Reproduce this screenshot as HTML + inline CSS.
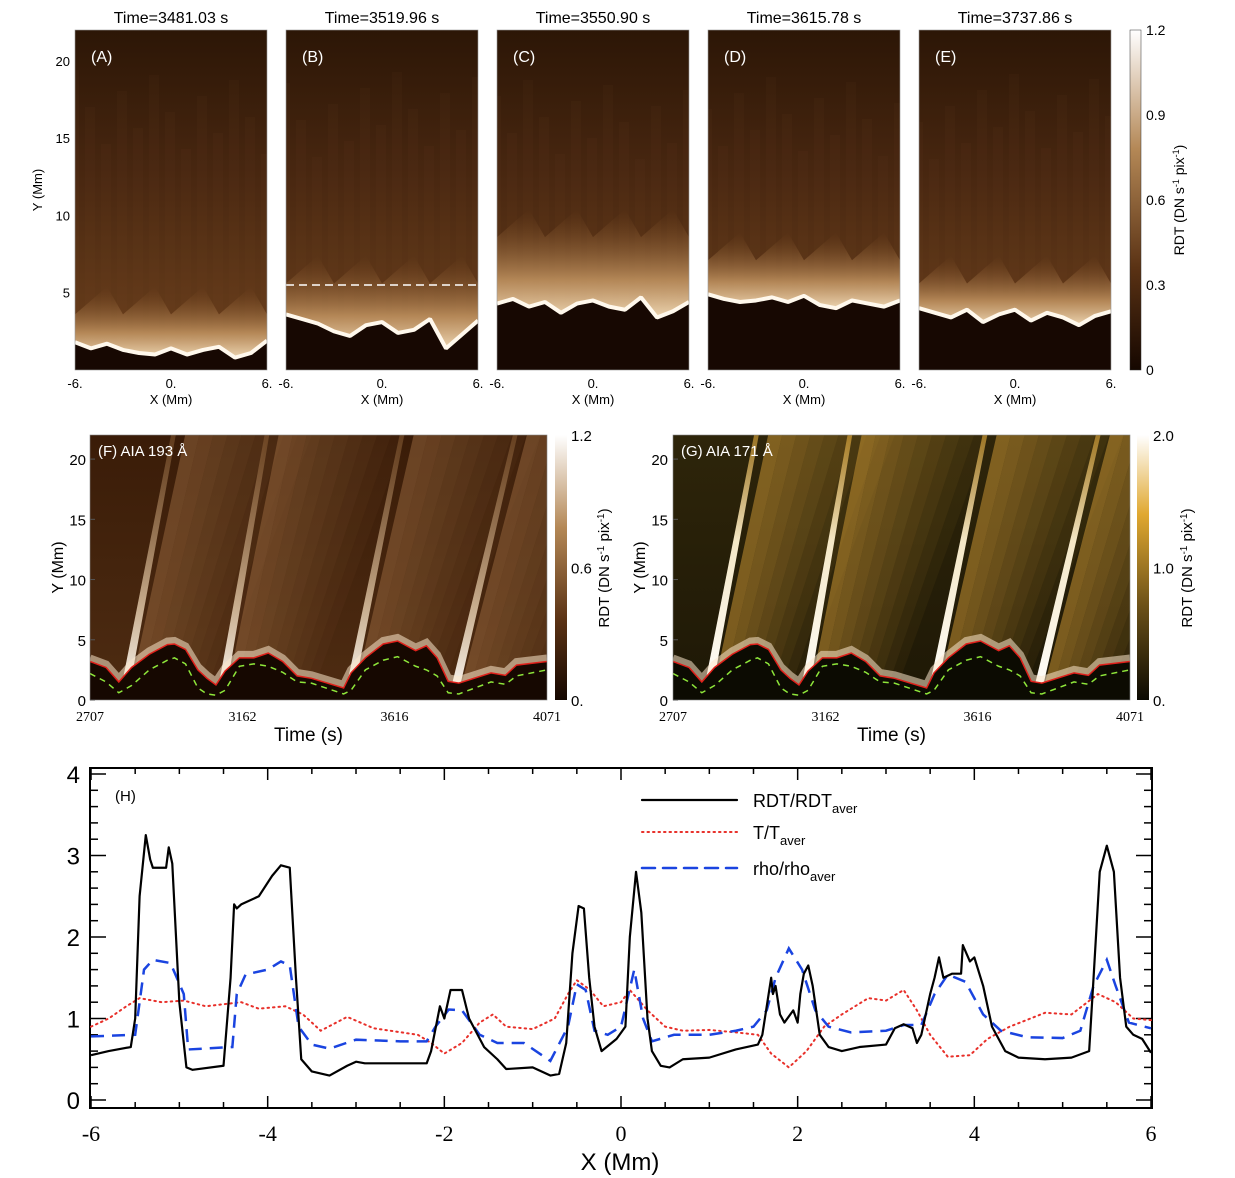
<!DOCTYPE html>
<html><head><meta charset="utf-8"><style>
html,body{margin:0;padding:0;background:#fff;}
svg{display:block;font-family:"Liberation Sans",sans-serif;}
</style></head><body>
<svg id="fig" width="1235" height="1178" viewBox="0 0 1235 1178" xmlns="http://www.w3.org/2000/svg">
<defs>
<linearGradient id="topBg" x1="0" y1="0" x2="0" y2="1">
<stop offset="0" stop-color="#2c1606"/><stop offset="0.45" stop-color="#4a2811"/><stop offset="1" stop-color="#6e421d"/>
</linearGradient>
<linearGradient id="glow" x1="0" y1="1" x2="0" y2="0">
<stop offset="0" stop-color="#f3dcb8" stop-opacity="0.95"/><stop offset="0.35" stop-color="#c89a66" stop-opacity="0.8"/><stop offset="1" stop-color="#7a4a22" stop-opacity="0"/>
</linearGradient>
<linearGradient id="cbBrown" x1="0" y1="1" x2="0" y2="0">
<stop offset="0" stop-color="#150700"/><stop offset="0.3" stop-color="#5a3214"/><stop offset="0.65" stop-color="#b48856"/><stop offset="1" stop-color="#ffffff"/>
</linearGradient>
<linearGradient id="cbGold" x1="0" y1="1" x2="0" y2="0">
<stop offset="0" stop-color="#0c0a02"/><stop offset="0.35" stop-color="#6a5018"/><stop offset="0.7" stop-color="#e0a830"/><stop offset="1" stop-color="#ffffff"/>
</linearGradient>
<linearGradient id="fBg" x1="0" y1="0" x2="0" y2="1">
<stop offset="0" stop-color="#3a1c08"/><stop offset="1" stop-color="#4e2c12"/>
</linearGradient>
<linearGradient id="gBg" x1="0" y1="0" x2="0" y2="1">
<stop offset="0" stop-color="#2e250a"/><stop offset="1" stop-color="#1e1806"/>
</linearGradient>
<linearGradient id="coreF" x1="0" y1="1" x2="0" y2="0">
<stop offset="0" stop-color="#ffffff" stop-opacity="1"/><stop offset="0.35" stop-color="#e8cfae" stop-opacity="0.8"/><stop offset="1" stop-color="#9a6a3c" stop-opacity="0.4"/>
</linearGradient>
<linearGradient id="coreG" x1="0" y1="1" x2="0" y2="0">
<stop offset="0" stop-color="#ffffff" stop-opacity="1"/><stop offset="0.6" stop-color="#fff2d0" stop-opacity="0.95"/><stop offset="1" stop-color="#e0a838" stop-opacity="0.6"/>
</linearGradient>
</defs>
<g id="top-row"></g>
<g id="mid-row"></g>
<g id="bottom"></g>
</svg>
<script>
// ---------- Data: panels A-E ----------
const panelTitles = ["Time=3481.03 s","Time=3519.96 s","Time=3550.90 s","Time=3615.78 s","Time=3737.86 s"];
const panelLetters = ["(A)","(B)","(C)","(D)","(E)"];
const bandX = [-6,-5,-4,-3,-2,-1,0,1,2,3,4,5,6];
const bandA = [1.8,1.4,1.7,1.3,1.1,1.0,1.4,1.0,1.3,1.5,0.8,1.1,1.9];
const bandB = [3.6,3.3,3.0,2.5,2.2,2.9,3.1,2.4,2.6,3.3,1.4,2.3,3.2];
const bandC = [4.3,4.6,4.1,4.4,3.7,4.3,4.5,4.1,3.9,4.7,3.4,3.8,4.4];
const bandD = [4.9,4.6,4.4,4.5,4.7,4.4,4.8,4.2,4.0,4.5,4.3,4.1,4.5];
const bandE = [4.0,3.7,3.4,3.9,3.1,3.6,3.9,3.2,3.7,3.4,2.9,3.5,3.8];
const glowTop = [4.5,6.5,9.5,8,6.5];
// ---------- Data: panels F, G ----------
const bTimes = [2707,2755,2793,2831,2884,2938,2959,2992,3029,3056,3083,3110,3153,3196,3239,3282,3325,3368,3464,3486,3529,3582,3625,3679,3711,3743,3776,3808,3904,3947,3980,4071];
const redH = [3.2,2.7,1.5,2.7,3.8,4.6,4.65,4.2,2.5,1.8,1.25,2.4,3.5,3.5,3.9,3.2,2.0,1.8,1.0,2.25,3.5,4.65,4.9,4.1,4.5,3.5,1.55,1.4,2.25,2.05,2.9,3.2];
const greenH = [2.2,1.5,0.6,1.2,2.5,3.3,3.5,3.0,1.0,0.5,0.4,0.8,2.8,3.0,2.8,2.3,1.5,1.4,0.5,0.8,2.5,3.3,3.6,2.8,2.5,2.0,0.6,0.5,1.5,1.3,2.0,2.5];
const wedgeStart = [2793,3083,3464,3776];
const wedgeTop = [2949,3228,3631,3969];
const timeTicks = [2707,3162,3616,4071];
// ---------- Data: panel H ----------
const rdtPts = [[-6,0.55],[-5.8,0.6],[-5.55,0.65],[-5.5,1.0],[-5.45,2.5],[-5.38,3.25],[-5.33,2.95],[-5.3,2.85],[-5.15,2.85],[-5.12,3.1],[-5.08,2.9],[-5.0,1.2],[-4.92,0.4],[-4.85,0.37],[-4.5,0.42],[-4.42,1.5],[-4.38,2.4],[-4.35,2.35],[-4.3,2.4],[-4.1,2.5],[-3.95,2.75],[-3.85,2.88],[-3.75,2.85],[-3.68,1.5],[-3.62,0.5],[-3.5,0.35],[-3.3,0.3],[-3.1,0.42],[-3.0,0.47],[-2.9,0.45],[-2.2,0.45],[-2.15,0.6],[-2.05,1.15],[-2.0,1.0],[-1.93,1.35],[-1.8,1.35],[-1.72,1.0],[-1.55,0.65],[-1.4,0.5],[-1.3,0.38],[-1.0,0.4],[-0.8,0.3],[-0.7,0.32],[-0.62,0.7],[-0.55,1.8],[-0.48,2.38],[-0.42,2.35],[-0.36,1.5],[-0.3,0.9],[-0.22,0.6],[-0.05,0.75],[0.05,0.9],[0.1,2.0],[0.17,2.8],[0.23,2.3],[0.3,1.0],[0.35,0.6],[0.45,0.42],[0.55,0.4],[0.7,0.5],[1.0,0.52],[1.3,0.62],[1.55,0.68],[1.6,0.8],[1.7,1.5],[1.72,1.3],[1.75,1.4],[1.8,1.05],[1.85,0.95],[1.95,1.1],[2.0,0.95],[2.03,1.3],[2.07,1.55],[2.12,1.65],[2.17,1.4],[2.25,0.8],[2.35,0.65],[2.5,0.6],[2.7,0.65],[3.0,0.68],[3.1,0.88],[3.2,0.93],[3.3,0.88],[3.35,0.7],[3.4,0.8],[3.5,1.3],[3.55,1.5],[3.6,1.75],[3.65,1.5],[3.75,1.55],[3.85,1.55],[3.87,1.9],[3.95,1.7],[4.0,1.75],[4.1,1.4],[4.2,0.9],[4.35,0.6],[4.5,0.52],[4.8,0.5],[5.1,0.52],[5.3,0.6],[5.35,1.5],[5.42,2.8],[5.5,3.12],[5.58,2.8],[5.65,1.5],[5.72,0.9],[5.8,0.8],[5.9,0.75],[6.0,0.58]];
const tPts = [[-6,0.9],[-5.8,1.0],[-5.6,1.15],[-5.45,1.25],[-5.2,1.2],[-4.95,1.22],[-4.7,1.15],[-4.3,1.2],[-4.1,1.12],[-3.8,1.15],[-3.6,1.05],[-3.4,0.85],[-3.1,1.02],[-2.8,0.88],[-2.3,0.8],[-2.15,0.7],[-2.0,0.57],[-1.8,0.7],[-1.6,0.95],[-1.45,1.05],[-1.3,0.9],[-1.0,0.87],[-0.75,1.0],[-0.6,1.3],[-0.5,1.47],[-0.35,1.35],[-0.2,1.15],[0.0,1.2],[0.1,1.35],[0.3,1.1],[0.5,0.9],[0.7,0.85],[1.0,0.86],[1.3,0.83],[1.55,0.8],[1.7,0.57],[1.9,0.4],[2.1,0.6],[2.3,0.9],[2.5,1.05],[2.8,1.25],[3.0,1.22],[3.2,1.35],[3.35,1.1],[3.5,0.8],[3.7,0.53],[3.95,0.55],[4.15,0.75],[4.4,0.9],[4.8,1.07],[5.1,1.05],[5.4,1.3],[5.6,1.2],[5.8,1.0],[6.0,0.98]];
const rhoPts = [[-6,0.78],[-5.5,0.8],[-5.4,1.6],[-5.3,1.72],[-5.1,1.68],[-4.95,1.3],[-4.9,0.62],[-4.4,0.65],[-4.35,1.3],[-4.25,1.54],[-4.0,1.6],[-3.85,1.7],[-3.75,1.65],[-3.65,0.9],[-3.5,0.68],[-3.3,0.63],[-3.0,0.74],[-2.5,0.72],[-2.2,0.72],[-2.1,0.9],[-1.95,1.11],[-1.8,1.1],[-1.6,0.8],[-1.4,0.7],[-1.1,0.7],[-0.8,0.48],[-0.6,0.9],[-0.5,1.42],[-0.4,1.35],[-0.3,0.85],[-0.15,0.8],[0.0,0.9],[0.15,1.6],[0.25,1.0],[0.35,0.72],[0.6,0.8],[1.0,0.8],[1.3,0.85],[1.5,0.9],[1.65,1.1],[1.75,1.5],[1.9,1.86],[2.05,1.6],[2.2,1.1],[2.35,0.9],[2.6,0.83],[3.0,0.85],[3.2,0.92],[3.4,0.92],[3.55,1.3],[3.7,1.54],[3.9,1.45],[4.1,1.05],[4.3,0.85],[4.6,0.77],[5.0,0.76],[5.2,0.85],[5.35,1.4],[5.5,1.72],[5.6,1.4],[5.75,0.95],[6.0,0.88]];
const hYTicks = [0,1,2,3,4];
const hXTicks = [-6,-4,-2,0,2,4,6];

const NS = "http://www.w3.org/2000/svg";
function mk(parent, tag, attrs, text){
  const e = document.createElementNS(NS, tag);
  for (const k in attrs) e.setAttribute(k, attrs[k]);
  if (text !== undefined) e.textContent = text;
  parent.appendChild(e);
  return e;
}
const fig = document.getElementById('fig');
const defs = fig.querySelector('defs');

// ================= TOP ROW =================
const topG = document.getElementById('top-row');
const panelX0 = [75,286,497,708,919];
const PW = 192, PT = 30, PB = 370;
const bands = [bandA,bandB,bandC,bandD,bandE];
function tyMm(v){ return PB - (PB-PT)*v/22; }
for (let p=0;p<5;p++){
  const x0 = panelX0[p];
  const tx = v => x0 + (v+6)/12*PW;
  const g = mk(topG,'g',{});
  
  
  const cp = mk(defs,'clipPath',{id:'cp'+p});
  mk(cp,'rect',{x:x0,y:PT,width:PW,height:PB-PT});
  const inner = mk(g,'g',{'clip-path':'url(#cp'+p+')'});
  mk(inner,'rect',{x:x0,y:PT,width:PW,height:PB-PT,fill:'url(#topBg)'});
  for (let i=0;i<bandX.length;i++){
    mk(inner,'rect',{x:tx(bandX[i])-6,y:PT+40+((i*37+p*13)%90),width:10,height:PB-PT,fill:'#8a5a30',opacity:0.06});
  }
  const band = bands[p];
  let gp = bandX.map((x,i)=>tx(x)+','+tyMm(band[i])).join(' ');
  const gtop = bandX.map((x,i)=>tx(x)+','+tyMm(glowTop[p]+((i%3)-1)*0.9)).reverse().join(' ');
  mk(inner,'polygon',{points:gp+' '+gtop,fill:'url(#glow)'});
  mk(inner,'polygon',{points:gp+' '+tx(6)+','+PB+' '+tx(-6)+','+PB,fill:'#170802'});
  const bl = mk(inner,'polyline',{points:gp,fill:'none',stroke:'#fff8ec','stroke-width':4,'stroke-linejoin':'bevel'});
  
  
  if (p===1){
    const dl = mk(inner,'line',{x1:x0,x2:x0+PW,y1:tyMm(5.5),y2:tyMm(5.5),stroke:'#fff','stroke-width':1.5,'stroke-dasharray':'8,5'});
    
    
  }
  mk(g,'rect',{x:x0,y:PT,width:PW,height:PB-PT,fill:'none',stroke:'#999','stroke-width':0.6});
  const lt = mk(g,'text',{x:x0+16,y:62,fill:'#fff','font-size':16},panelLetters[p]);
  
  
  const tt = mk(g,'text',{x:x0+PW/2,y:23,'text-anchor':'middle','font-size':16},panelTitles[p]);
  
  
  [[-6,'-6.'],[0,'0.'],[6,'6.']].forEach(([v,s])=>{
    const t = mk(g,'text',{x:tx(v),y:388,'text-anchor':'middle','font-size':13},s);
    
    
  });
  const xl = mk(g,'text',{x:x0+PW/2,y:404,'text-anchor':'middle','font-size':13},'X (Mm)');
  
  
}
[5,10,15,20].forEach(v=>{
  const t = mk(topG,'text',{x:70,y:tyMm(v)+5,'text-anchor':'end','font-size':13},String(v));
  
  
});
{
  const t = mk(topG,'text',{x:0,y:0,'text-anchor':'middle','font-size':13,transform:'translate(42,190) rotate(-90)'},'Y (Mm)');
  
  
  const cb = mk(topG,'rect',{x:1130,y:PT,width:11,height:PB-PT,fill:'url(#cbBrown)',stroke:'#333','stroke-width':0.5});
  
  
  [[1.2,'1.2'],[0.9,'0.9'],[0.6,'0.6'],[0.3,'0.3'],[0,'0']].forEach(([v,s])=>{
    const y = PB-(PB-PT)*v/1.2;
    const l = mk(topG,'text',{x:1146,y:y+5,'font-size':14},s);
    
    
  });
  const ct = mk(topG,'text',{x:0,y:0,'text-anchor':'middle','font-size':14,transform:'translate(1184,200) rotate(-90)'});
  
  
  ct.innerHTML = 'RDT (DN s<tspan baseline-shift="super" font-size="9">-1</tspan> pix<tspan baseline-shift="super" font-size="9">-1</tspan>)';
}

// ================= MIDDLE ROW =================
const midG = document.getElementById('mid-row');
function drawTD(cfg){
  const {x0,x1,y0,y1,bg,strip,core,dark,label,cbx,cbFill,cbLabels,cbMax,tickX,name,cbTitleX,stripOp} = cfg;
  const g = mk(midG,'g',{});
  
  
  const tx = t => x0 + (t-2707)/(4071-2707)*(x1-x0);
  const ty = v => y1 - (y1-y0)*v/22;
  const cp = mk(defs,'clipPath',{id:'cp'+name});
  mk(cp,'rect',{x:x0,y:y0,width:x1-x0,height:y1-y0});
  const inner = mk(g,'g',{'clip-path':'url(#cp'+name+')'});
  mk(inner,'rect',{x:x0,y:y0,width:x1-x0,height:y1-y0,fill:bg});
  for (let w=0;w<wedgeStart.length;w++){
    const d = 28;
    for (let i=9;i>=1;i--){
      const a = wedgeStart[w]+i*d, b = wedgeTop[w]+i*d*1.5;
      const pts = [tx(a)+','+ty(0), tx(b)+','+ty(22), tx(b+d*1.5)+','+ty(22), tx(a+d)+','+ty(0)].join(' ');
      const s = mk(inner,'polygon',{points:pts,fill:strip,opacity:stripOp*(1-i/10)});
      
      
    }
    const a = wedgeStart[w], b = wedgeTop[w];
    const pts = [tx(a)+','+ty(0), tx(b)+','+ty(22), tx(b+14)+','+ty(22), tx(a+26)+','+ty(0)].join(' ');
    const c = mk(inner,'polygon',{points:pts,fill:core});
    
    
  }
  const redPts = bTimes.map((t,i)=>tx(t)+','+ty(redH[i])).join(' ');
  mk(inner,'polyline',{points:redPts,fill:'none',stroke:'#fbe8cc','stroke-width':8,opacity:0.55,transform:'translate(0,-3)'});
  mk(inner,'polygon',{points:redPts+' '+tx(4071)+','+y1+' '+tx(2707)+','+y1,fill:dark});
  const rl = mk(inner,'polyline',{points:redPts,fill:'none',stroke:'#e0201a','stroke-width':1.5});
  
  
  const gl = mk(inner,'polyline',{points:bTimes.map((t,i)=>tx(t)+','+ty(greenH[i])).join(' '),fill:'none',stroke:'#8ee63a','stroke-width':1.5,'stroke-dasharray':'6,5'});
  
  
  mk(g,'rect',{x:x0,y:y0,width:x1-x0,height:y1-y0,fill:'none',stroke:'#888','stroke-width':0.6});
  const lt = mk(g,'text',{x:x0+8,y:y0+21,fill:'#fff','font-size':15},label);
  
  
  [0,5,10,15,20].forEach(v=>{
    const t = mk(g,'text',{x:tickX,y:ty(v)+6,'text-anchor':'end','font-size':15},String(v));
    
    
    mk(g,'line',{x1:x0,x2:x0+5,y1:ty(v),y2:ty(v),stroke:'#555'});
  });
  const yl = mk(g,'text',{x:0,y:0,'text-anchor':'middle','font-size':16,transform:'translate('+(tickX-23)+','+ty(11)+') rotate(-90)'},'Y (Mm)');
  
  
  timeTicks.forEach(t=>{
    const l = mk(g,'text',{x:tx(t),y:721,'text-anchor':'middle','font-size':14,'font-family':'Liberation Serif, serif'},String(t));
    
    
  });
  const xl = mk(g,'text',{x:(x0+x1)/2-10,y:741,'text-anchor':'middle','font-size':19},'Time  (s)');
  
  
  const cb = mk(g,'rect',{x:cbx,y:y0,width:12,height:y1-y0,fill:cbFill});
  
  
  cbLabels.forEach(([v,s])=>{
    const yy = y1-(y1-y0)*v/cbMax;
    const l = mk(g,'text',{x:cbx+16,y:yy+6,'font-size':15},s);
    
    
  });
  const ct = mk(g,'text',{x:0,y:0,'text-anchor':'middle','font-size':15,transform:'translate('+cbTitleX+',568) rotate(-90)'});
  
  
  ct.innerHTML = 'RDT (DN s<tspan baseline-shift="super" font-size="10">-1</tspan> pix<tspan baseline-shift="super" font-size="10">-1</tspan>)';
}
drawTD({x0:90,x1:547,y0:435,y1:700,bg:'url(#fBg)',strip:'#9c6c40',core:'url(#coreF)',dark:'#160801',label:'(F) AIA 193 Å',cbx:555,cbFill:'url(#cbBrown)',cbLabels:[[1.2,'1.2'],[0.6,'0.6'],[0,'0.']],cbMax:1.2,tickX:86,name:'panel-f',cbTitleX:609,stripOp:0.55});
drawTD({x0:673,x1:1130,y0:435,y1:700,bg:'url(#gBg)',strip:'#c89434',core:'url(#coreG)',dark:'#0c0b02',label:'(G) AIA 171 Å',cbx:1137,cbFill:'url(#cbGold)',cbLabels:[[2,'2.0'],[1,'1.0'],[0,'0.']],cbMax:2,tickX:668,name:'panel-g',cbTitleX:1192,stripOp:0.6});

// ================= PANEL H =================
const hG = document.getElementById('bottom');
const HX0=90, HX1=1152, HY0=768, HY1=1108;
const hx = v => 621 + 88.33*v;
const hy = v => 1100 - 81.5*v;
const box = mk(hG,'rect',{x:HX0,y:HY0,width:HX1-HX0,height:HY1-HY0,fill:'#fff',stroke:'#000','stroke-width':2});


for (let v=0; v<=4.0001; v+=0.2){
  const major = Math.abs(v-Math.round(v))<1e-6;
  const L = major?16:8;
  mk(hG,'line',{x1:HX0,x2:HX0+L,y1:hy(v),y2:hy(v),stroke:'#000','stroke-width':1.5});
  mk(hG,'line',{x1:HX1-L,x2:HX1,y1:hy(v),y2:hy(v),stroke:'#000','stroke-width':1.5});
}
for (let v=-6; v<=6.0001; v+=0.5){
  const major = Math.abs(v/2-Math.round(v/2))<1e-6;
  const L = major?12:6;
  mk(hG,'line',{x1:hx(v),x2:hx(v),y1:HY1,y2:HY1-L,stroke:'#000','stroke-width':1.5});
  mk(hG,'line',{x1:hx(v),x2:hx(v),y1:HY0,y2:HY0+L,stroke:'#000','stroke-width':1.5});
}
hYTicks.forEach(v=>{
  const t = mk(hG,'text',{x:80,y:hy(v)+9,'text-anchor':'end','font-size':24},String(v));
  
  
});
hXTicks.forEach(v=>{
  const t = mk(hG,'text',{x:hx(v),y:1141,'text-anchor':'middle','font-size':22,'font-family':'Liberation Serif, serif'},String(v));
  
  
});
{
  const t = mk(hG,'text',{x:620,y:1170,'text-anchor':'middle','font-size':24},'X (Mm)');
  
  
  const l = mk(hG,'text',{x:115,y:801,'font-size':15},'(H)');
  
  
}
const tLine = mk(hG,'polyline',{points:tPts.map(p=>hx(p[0])+','+hy(p[1])).join(' '),fill:'none',stroke:'#e8302a','stroke-width':2,'stroke-dasharray':'1.5,4','stroke-linecap':'round'});


const rLine = mk(hG,'polyline',{points:rhoPts.map(p=>hx(p[0])+','+hy(p[1])).join(' '),fill:'none',stroke:'#1a44e0','stroke-width':2.5,'stroke-dasharray':'13,8'});


const dLine = mk(hG,'polyline',{points:rdtPts.map(p=>hx(p[0])+','+hy(p[1])).join(' '),fill:'none',stroke:'#000','stroke-width':2.2,'stroke-linejoin':'round'});


const leg = mk(hG,'g',{});


const legItems = [
  {y:800, stroke:'#000', dash:'', w:2.2, main:'RDT/RDT', sub:'aver'},
  {y:832, stroke:'#e8302a', dash:'1.5,4', w:2, main:'T/T', sub:'aver'},
  {y:868, stroke:'#1a44e0', dash:'13,8', w:2.5, main:'rho/rho', sub:'aver'}
];
legItems.forEach(it=>{
  const e = mk(leg,'g',{});
  
  
  const a = {x1:642,x2:737,y1:it.y,y2:it.y,stroke:it.stroke,'stroke-width':it.w,'stroke-linecap':'round'};
  if (it.dash) a['stroke-dasharray']=it.dash;
  mk(e,'line',a);
  const t = mk(e,'text',{x:753,y:it.y+7,'font-size':18});
  t.innerHTML = it.main+'<tspan font-size="13" dy="6">'+it.sub+'</tspan>';
});
</script>
</body></html>
